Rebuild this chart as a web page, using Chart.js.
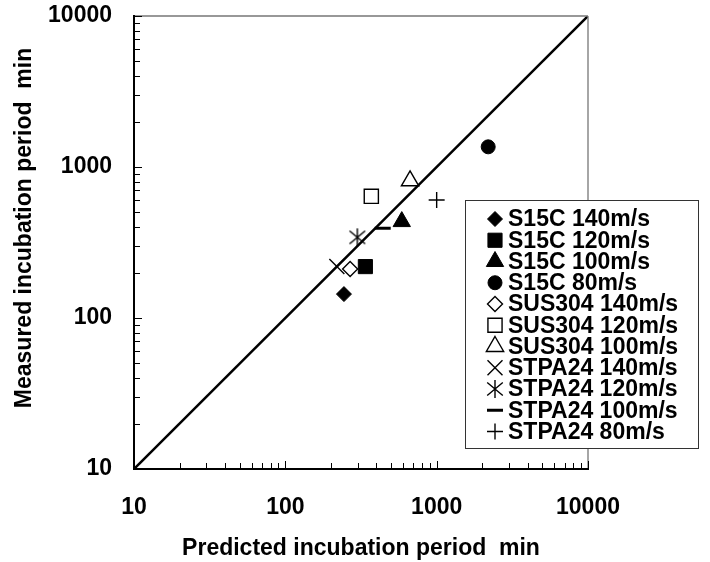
<!DOCTYPE html>
<html>
<head>
<meta charset="utf-8">
<script src="https://cdn.jsdelivr.net/npm/chart.js@4/dist/chart.umd.min.js"></script>
<style>
  body { margin: 0; background: #fff; }
  canvas { display: block; }
</style>
</head>
<body>
<canvas id="chart" width="710" height="562"></canvas>
<script>
// series names (legend order)
const seriesNames = [
    'S15C 140m/s', 'S15C 120m/s', 'S15C 100m/s', 'S15C 80m/s',
    'SUS304 140m/s', 'SUS304 120m/s', 'SUS304 100m/s',
    'STPA24 140m/s', 'STPA24 120m/s', 'STPA24 100m/s', 'STPA24 80m/s'
];
// predicted (x) and measured (y) incubation period, min
const predicted = [244, 338, 588, 2190, 268, 370, 667, 219, 299, 440, 1000];
const measured  = [144, 219, 435, 1360, 211, 640, 810, 219, 342, 393, 604];
// 1:1 reference line
const refLine = [10, 10000];
// labelled decades on both axes
const tickLabels = [10, 100, 1000, 10000];

const FONT = 'Liberation Sans, Arial, sans-serif';
const Y_TITLE = 'Measured incubation period  min';

// asterisk marker: X plus vertical bar
function makeAsterisk() {
    const c = document.createElement('canvas');
    c.width = 22; c.height = 22;
    const g = c.getContext('2d');
    g.strokeStyle = '#000';
    g.lineWidth = 1.4;
    g.beginPath();
    g.moveTo(3.2, 4.5); g.lineTo(18.8, 17.5);
    g.moveTo(18.8, 4.5); g.lineTo(3.2, 17.5);
    g.moveTo(11, 2); g.lineTo(11, 20);
    g.stroke();
    return c;
}

// marker style per series
const markerStyles = [
    { pointStyle: 'rectRot', radius: 7.5, fill: '#000', bw: 1 },
    { pointStyle: 'rect', radius: 10, fill: '#000', bw: 1 },
    { pointStyle: 'triangle', radius: 10, fill: '#000', bw: 1 },
    { pointStyle: 'circle', radius: 7, fill: '#000', bw: 1 },
    { pointStyle: 'rectRot', radius: 7.5, fill: '#fff', bw: 1.4 },
    { pointStyle: 'rect', radius: 10, fill: '#fff', bw: 1.4 },
    { pointStyle: 'triangle', radius: 10, fill: '#fff', bw: 1.4 },
    { pointStyle: 'crossRot', radius: 10.6, fill: '#fff', bw: 1.4 },
    { pointStyle: makeAsterisk(), radius: 9, fill: '#fff', bw: 1.4 },
    { pointStyle: 'line', radius: 8, fill: '#000', bw: 3 },
    { pointStyle: 'cross', radius: 8, fill: '#fff', bw: 1.4 }
];

const datasets = seriesNames.map((name, i) => ({
    type: 'scatter',
    label: name,
    data: [{ x: predicted[i], y: measured[i] }],
    pointStyle: markerStyles[i].pointStyle,
    pointRadius: markerStyles[i].radius,
    pointBackgroundColor: markerStyles[i].fill,
    pointBorderColor: '#000',
    pointBorderWidth: markerStyles[i].bw,
    order: 0
}));

datasets.push({
    type: 'line',
    label: '1:1',
    data: refLine.map(v => ({ x: v, y: v })),
    borderColor: '#000',
    borderWidth: 2.5,
    pointRadius: 0,
    order: 1
});

// minor + major tick positions (1..9 per decade)
function tickValues() {
    const vals = [];
    for (let d = 0; d < tickLabels.length - 1; d++) {
        for (let m = 1; m < 10; m++) vals.push(tickLabels[d] * m);
    }
    vals.push(tickLabels[tickLabels.length - 1]);
    return vals;
}

// frame, inside ticks, y title and legend box
const framePlugin = {
    id: 'frame',
    afterDraw(chart) {
        const ctx = chart.ctx;
        const a = chart.chartArea;
        const xs = chart.scales.x;
        const ys = chart.scales.y;
        ctx.save();

        // top / right lines (grey)
        ctx.strokeStyle = '#777';
        ctx.lineWidth = 1.3;
        ctx.beginPath();
        ctx.moveTo(a.left, a.top); ctx.lineTo(a.right, a.top);
        ctx.moveTo(a.right, a.top); ctx.lineTo(a.right, a.bottom);
        ctx.stroke();

        // inside ticks
        ctx.strokeStyle = '#000';
        ctx.lineWidth = 1;
        ctx.beginPath();
        tickValues().forEach(v => {
            const len = tickLabels.includes(v) ? 8 : 6;
            const px = Math.round(xs.getPixelForValue(v)) + 0.5;
            ctx.moveTo(px, a.bottom); ctx.lineTo(px, a.bottom - len);
            const py = Math.round(ys.getPixelForValue(v)) + 0.5;
            ctx.moveTo(a.left, py); ctx.lineTo(a.left + len, py);
        });
        ctx.stroke();

        // left / bottom axis lines
        ctx.lineWidth = 2;
        ctx.beginPath();
        ctx.moveTo(a.left, a.top - 1); ctx.lineTo(a.left, a.bottom);
        ctx.lineTo(a.right + 1, a.bottom);
        ctx.stroke();

        // y axis title
        ctx.save();
        ctx.translate(25, 228);
        ctx.rotate(-Math.PI / 2);
        ctx.font = 'bold 23px ' + FONT;
        ctx.fillStyle = '#000';
        ctx.textAlign = 'center';
        ctx.textBaseline = 'middle';
        ctx.fillText(Y_TITLE, 0, 0);
        ctx.restore();

        // legend
        const box = { left: 465.5, top: 200.5, right: 698.5, bottom: 448.5 };
        ctx.fillStyle = '#fff';
        ctx.fillRect(box.left, box.top, box.right - box.left, box.bottom - box.top);
        ctx.strokeStyle = '#333';
        ctx.lineWidth = 1;
        ctx.strokeRect(box.left, box.top, box.right - box.left, box.bottom - box.top);

        ctx.font = 'bold 23px ' + FONT;
        ctx.textBaseline = 'middle';
        ctx.textAlign = 'left';
        seriesNames.forEach((name, i) => {
            const y = 219 + i * 21.25;
            const st = markerStyles[i];
            ctx.fillStyle = st.fill;
            ctx.strokeStyle = '#000';
            ctx.lineWidth = st.bw;
            Chart.helpers.drawPoint(ctx, {
                pointStyle: st.pointStyle,
                radius: st.radius,
                rotation: 0,
                borderWidth: st.bw
            }, 495, y);
            ctx.fillStyle = '#000';
            ctx.fillText(name, 508, y + 1);
        });
        ctx.restore();
    }
};

const axisFont = { family: FONT, size: 23, weight: 'bold' };

new Chart(document.getElementById('chart'), {
    data: { datasets: datasets },
    options: {
        responsive: false,
        animation: false,
        layout: { padding: { top: 16, right: 122, left: 0, bottom: 0 } },
        plugins: {
            legend: { display: false },
            tooltip: { enabled: false }
        },
        scales: {
            x: {
                type: 'logarithmic',
                position: 'bottom',
                min: 10,
                max: 10000,
                grid: { display: false },
                border: { display: false },
                ticks: {
                    autoSkip: false,
                    maxRotation: 0,
                    padding: 17,
                    color: '#000',
                    font: axisFont,
                    callback: v => tickLabels.includes(v) ? String(v) : ''
                },
                title: {
                    display: true,
                    text: 'Predicted incubation period  min',
                    color: '#000',
                    font: axisFont,
                    padding: { top: 0, bottom: 0 }
                },
                afterFit: s => {
                    s.height = 93;
                    s.paddingLeft = 0; s.paddingRight = 0;
                }
            },
            y: {
                type: 'logarithmic',
                position: 'left',
                min: 10,
                max: 10000,
                grid: { display: false },
                border: { display: false },
                ticks: {
                    autoSkip: false,
                    padding: 14,
                    color: '#000',
                    font: axisFont,
                    callback: v => tickLabels.includes(v) ? String(v) : ''
                },
                title: { display: false },
                afterFit: s => {
                    s.width = 134;
                    s.paddingTop = 0; s.paddingBottom = 0;
                }
            }
        }
    },
    plugins: [framePlugin]
});
</script>
</body>
</html>
